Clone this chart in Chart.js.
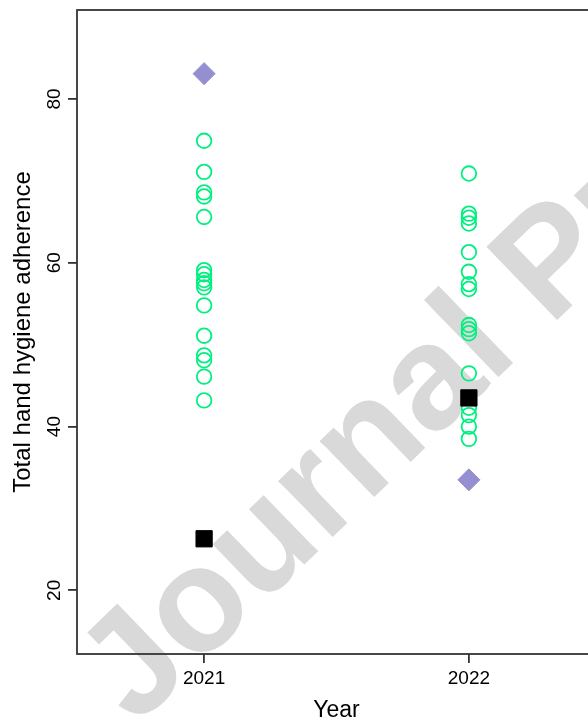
<!DOCTYPE html>
<html>
<head>
<meta charset="utf-8">
<script src="https://cdn.jsdelivr.net/npm/chart.js@4.4.1/dist/chart.umd.min.js"></script>
<style>
  html, body { margin: 0; padding: 0; background: #fff; overflow: hidden; }
  #wrap { width: 600px; height: 722px; }
</style>
</head>
<body>
<div id="wrap"><canvas id="chart" width="600" height="722"></canvas></div>
<script>
  // values
  const years = [2021, 2022];
  const yearTicks = [2021, 2022];
  const adherenceTicks = [20, 40, 60, 80];

  const units2021 = [74.9, 71.1, 68.6, 68.1, 65.6, 59.1, 58.6, 57.9, 57.5, 57.0, 54.8, 51.1, 48.7, 48.1, 46.1, 43.2];
  const units2022 = [70.9, 66.0, 65.5, 64.8, 61.3, 58.9, 57.4, 56.8, 52.4, 51.9, 51.4, 46.5, 42.3, 41.4, 40.0, 38.5];
  const squareValues = [26.3, 43.5];
  const diamondValues = [83.1, 33.5];

  const FONT = '"Liberation Sans", Arial, Helvetica, sans-serif';

  const toPoints = (year, values) => values.map(v => ({ x: year, y: v }));

  // no extra room round the plot, R keeps the box where it is
  const noPadding = (scale) => {
    scale.paddingTop = 0;
    scale.paddingBottom = 0;
    scale.paddingLeft = 0;
    scale.paddingRight = 0;
  };

  /* white background + watermark, under everything */
  const watermark = {
    id: 'watermark',
    beforeDraw(chart) {
      const ctx = chart.ctx;
      ctx.save();
      ctx.fillStyle = '#ffffff';
      ctx.fillRect(0, 0, chart.width, chart.height);
      ctx.translate(136, 727);
      ctx.rotate(-44 * Math.PI / 180);
      ctx.font = 'bold 148px ' + FONT;
      ctx.fillStyle = '#d9d9d9';
      ctx.textBaseline = 'alphabetic';
      ctx.fillText('Journal Pre-proof', 0, 0);
      ctx.restore();
    }
  };

  /* R style box round the plot region */
  const plotBox = {
    id: 'plotBox',
    beforeDatasetsDraw(chart) {
      const { ctx, chartArea: a } = chart;
      ctx.save();
      ctx.strokeStyle = '#333333';
      ctx.lineWidth = 1.8;
      ctx.strokeRect(a.left, a.top, a.right - a.left, a.bottom - a.top);
      ctx.restore();
    }
  };

  let ctx = document.getElementById('chart').getContext('2d');

  let adherenceChart = new Chart(ctx, {
    type: 'scatter',
    data: {
      datasets: [
        {
          label: 'Diamond',
          data: years.map((yr, i) => ({ x: yr, y: diamondValues[i] })),
          pointStyle: 'rectRot',
          pointRadius: 11,
          backgroundColor: '#948fd0',
          borderColor: '#948fd0',
          borderWidth: 1,
          order: 1
        },
        {
          label: 'Square',
          data: years.map((yr, i) => ({ x: yr, y: squareValues[i] })),
          pointStyle: 'rect',
          pointRadius: 11.5,
          backgroundColor: '#000000',
          borderColor: '#000000',
          borderWidth: 1,
          order: 2
        },
        {
          label: 'Units',
          data: toPoints(years[0], units2021).concat(toPoints(years[1], units2022)),
          pointStyle: 'circle',
          pointRadius: 7.3,
          backgroundColor: 'rgba(0,0,0,0)',
          borderColor: '#00f080',
          borderWidth: 1.8,
          order: 3
        }
      ]
    },
    options: {
      responsive: false,
      maintainAspectRatio: false,
      animation: false,
      events: [],
      layout: { autoPadding: false, padding: { left: 0, top: 10, right: 4, bottom: 0 } },
      plugins: { legend: { display: false }, tooltip: { enabled: false } },
      scales: {
        x: {
          type: 'linear',
          min: 2020.52,
          max: 2022.48,
          afterBuildTicks: (scale) => { scale.ticks = yearTicks.map(v => ({ value: v })); },
          afterFit: (scale) => { scale.height = 68; noPadding(scale); },
          grid: { display: true, drawOnChartArea: false, drawTicks: true, tickLength: 9, color: '#333333', lineWidth: 1.8 },
          border: { display: false },
          ticks: {
            color: '#000000',
            font: { family: FONT, size: 19 },
            padding: 4,
            maxRotation: 0,
            callback: (v) => String(v)
          },
          title: {
            display: true,
            text: 'Year',
            color: '#000000',
            font: { family: FONT, size: 23, lineHeight: 1 },
            padding: { top: 0, bottom: 0 }
          }
        },
        y: {
          type: 'linear',
          min: 12.23,
          max: 90.87,
          afterBuildTicks: (scale) => { scale.ticks = adherenceTicks.map(v => ({ value: v })); },
          afterFit: (scale) => { scale.width = 77; noPadding(scale); },
          grid: { display: true, drawOnChartArea: false, drawTicks: true, tickLength: 9, color: '#333333', lineWidth: 1.8 },
          border: { display: false },
          ticks: {
            color: '#000000',
            font: { family: FONT, size: 19 },
            padding: 3,
            minRotation: 90,
            maxRotation: 90,
            crossAlign: 'center'
          },
          title: {
            display: true,
            text: 'Total hand hygiene adherence',
            color: '#000000',
            font: { family: FONT, size: 24, lineHeight: 1 },
            padding: { top: 11, bottom: 0 }
          }
        }
      }
    },
    plugins: [watermark, plotBox]
  });
</script>
</body>
</html>
